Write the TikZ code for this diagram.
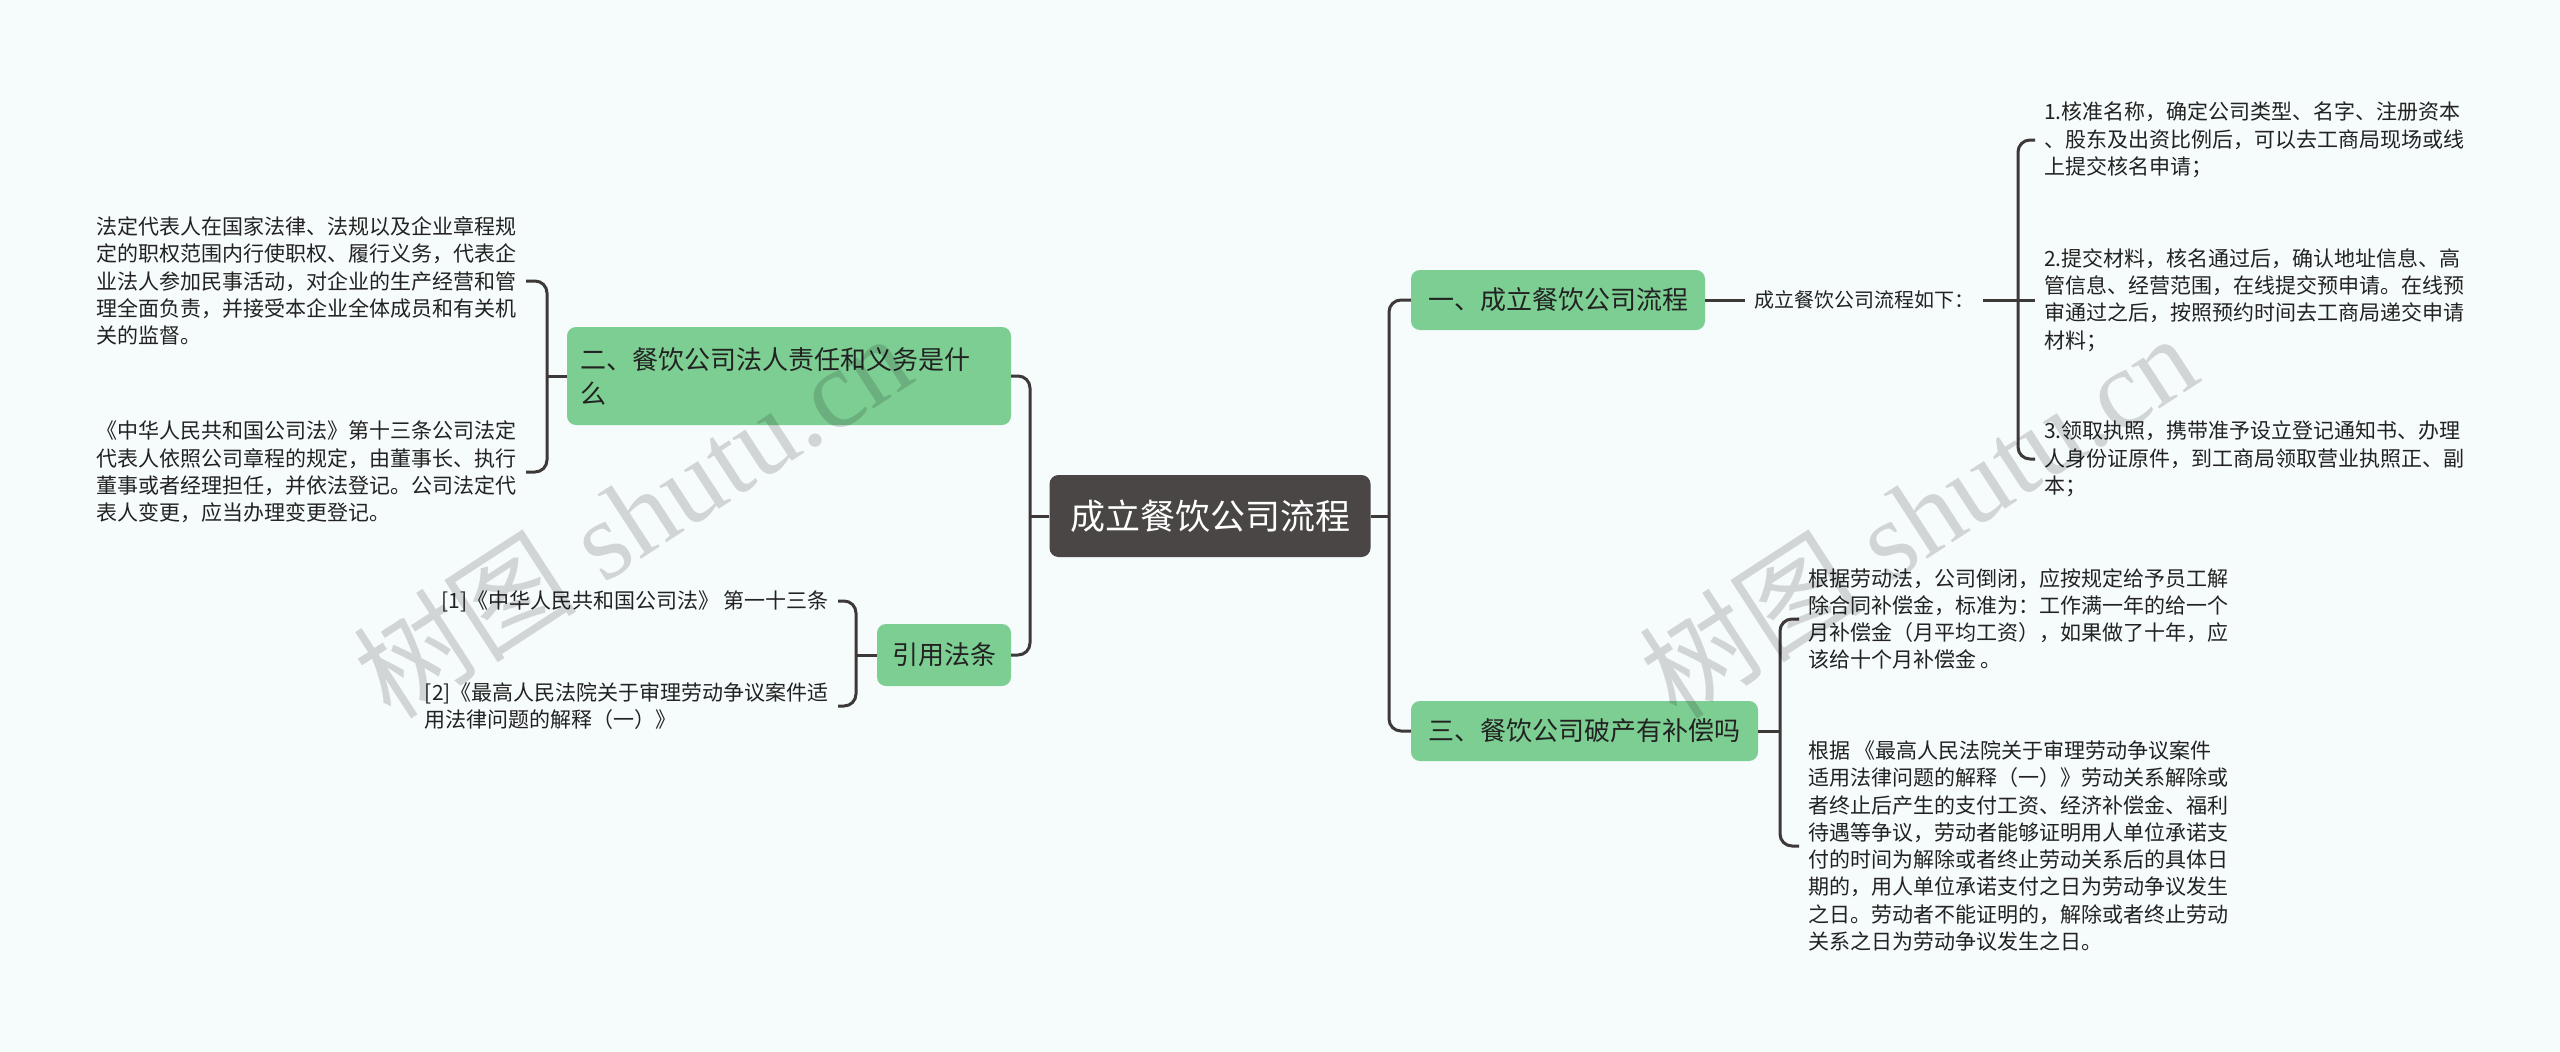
\documentclass[tikz,border=0pt]{standalone}
\usepackage{fontspec}
\setmainfont{Noto Sans CJK SC}
\newfontfamily\wmserif{Liberation Serif}
\newfontfamily\wmcjk{Noto Sans CJK SC}
\definecolor{bg}{HTML}{F6FBFB}
\definecolor{leafgreen}{HTML}{7DCE93}
\definecolor{rootgray}{HTML}{4A4645}
\definecolor{linec}{HTML}{3D3938}
\definecolor{txt}{HTML}{222222}
\tikzset{
  rootnode/.style={fill=rootgray, rounded corners=9, text=white, font=\fontsize{35}{40}\selectfont, minimum width=321, minimum height=82, inner sep=0},
  branchnode/.style={fill=leafgreen, rounded corners=9, text=txt, font=\fontsize{26}{34}\selectfont, minimum height=60, inner sep=0},
  leafnode/.style={font=\fontsize{21}{27.3}\selectfont, align=left, inner xsep=9, inner ysep=0, text=txt},
  conn/.style={draw=linec, line width=3, rounded corners=12},
  wm/.style={rotate=33, text=black, text opacity=0.15, font=\fontsize{112}{120}\selectfont}
}
\begin{document}
\begin{tikzpicture}[x=1pt,y=-1pt]
\fill[bg] (0,0) rectangle (2560,1052);
\useasboundingbox (0,0) rectangle (2560,1052);

% nodes
\node[rootnode] (root) at (1210,516) {成立餐饮公司流程};
\node[branchnode, minimum width=294] (A) at (1558,300) {一、成立餐饮公司流程};
\node[branchnode, minimum width=347] (B) at (1584.5,731) {三、餐饮公司破产有补偿吗};
\node[branchnode, minimum height=98, text width=418, align=left, inner xsep=13] (C) at (789,376) {二、餐饮公司法人责任和义务是什\\么};
\node[branchnode, minimum width=134, minimum height=62] (D) at (944,655) {引用法条};

\node[leafnode, font=\fontsize{20}{26}\selectfont, anchor=west] (T) at (1745,300) {成立餐饮公司流程如下：};

\node[leafnode, anchor=west] (I1) at (2035,140) {1.核准名称，确定公司类型、名字、注册资本\\、股东及出资比例后，可以去工商局现场或线\\上提交核名申请；};
\node[leafnode, anchor=west] (I2) at (2035,300) {2.提交材料，核名通过后，确认地址信息、高\\管信息、经营范围，在线提交预申请。在线预\\审通过之后，按照预约时间去工商局递交申请\\材料；};
\node[leafnode, anchor=west] (I3) at (2035,459) {3.领取执照，携带准予设立登记通知书、办理\\人身份证原件，到工商局领取营业执照正、副\\本；};

\node[leafnode, anchor=west] (B1) at (1799,619) {根据劳动法，公司倒闭，应按规定给予员工解\\除合同补偿金，标准为：工作满一年的给一个\\月补偿金（月平均工资），如果做了十年，应\\该给十个月补偿金 。};
\node[leafnode, anchor=west] (B2) at (1799,846) {根据 《最高人民法院关于审理劳动争议案件\\适用法律问题的解释（一）》劳动关系解除或\\者终止后产生的支付工资、经济补偿金、福利\\待遇等争议，劳动者能够证明用人单位承诺支\\付的时间为解除或者终止劳动关系后的具体日\\期的，用人单位承诺支付之日为劳动争议发生\\之日。劳动者不能证明的，解除或者终止劳动\\关系之日为劳动争议发生之日。};

\node[leafnode, anchor=east] (C1) at (526,281) {法定代表人在国家法律、法规以及企业章程规\\定的职权范围内行使职权、履行义务，代表企\\业法人参加民事活动，对企业的生产经营和管\\理全面负责，并接受本企业全体成员和有关机\\关的监督。};
\node[leafnode, anchor=east] (C2) at (526,472) {《中华人民共和国公司法》第十三条公司法定\\代表人依照公司章程的规定，由董事长、执行\\董事或者经理担任，并依法登记。公司法定代\\表人变更，应当办理变更登记。};

\node[leafnode, anchor=east] (D1) at (838,601) {[1]《中华人民共和国公司法》 第一十三条};
\node[leafnode, anchor=east] (D2) at (838,706) {[2]《最高人民法院关于审理劳动争议案件适\\用法律问题的解释（一）》};

% junction coordinates
\coordinate (rj) at (1389,516);
\coordinate (lj) at (1030,516);
\coordinate (tj) at (2018,300);
\coordinate (bj) at (1780,731);
\coordinate (cj) at (547,376);
\coordinate (dj) at (856,655);

% connectors
\draw[conn] (root.east) -- (rj);
\draw[conn] (rj) |- (A.west);
\draw[conn] (rj) |- (B.west);
\draw[conn] (root.west) -- (lj);
\draw[conn] (lj) |- (C.east);
\draw[conn] (lj) |- (D.east);

\draw[conn] (A.east) -- (T.west);
\draw[conn] (T.east) -- (I2.west);
\draw[conn] (tj) |- (I1.west);
\draw[conn] (tj) |- (I3.west);

\draw[conn] (B.east) -- (bj);
\draw[conn] (bj) |- (B1.west);
\draw[conn] (bj) |- (B2.west);

\draw[conn] (C.west) -- (cj);
\draw[conn] (cj) |- (C1.east);
\draw[conn] (cj) |- (C2.east);

\draw[conn] (D.west) -- (dj);
\draw[conn] (dj) |- (D1.east);
\draw[conn] (dj) |- (D2.east);

% watermarks
\node[wm] (wm1) at (632,515) {{\wmcjk 树图}{\wmserif\ shutu.cn}};
\node[wm] (wm2) at (1918,515) {{\wmcjk 树图}{\wmserif\ shutu.cn}};
\end{tikzpicture}
\end{document}
